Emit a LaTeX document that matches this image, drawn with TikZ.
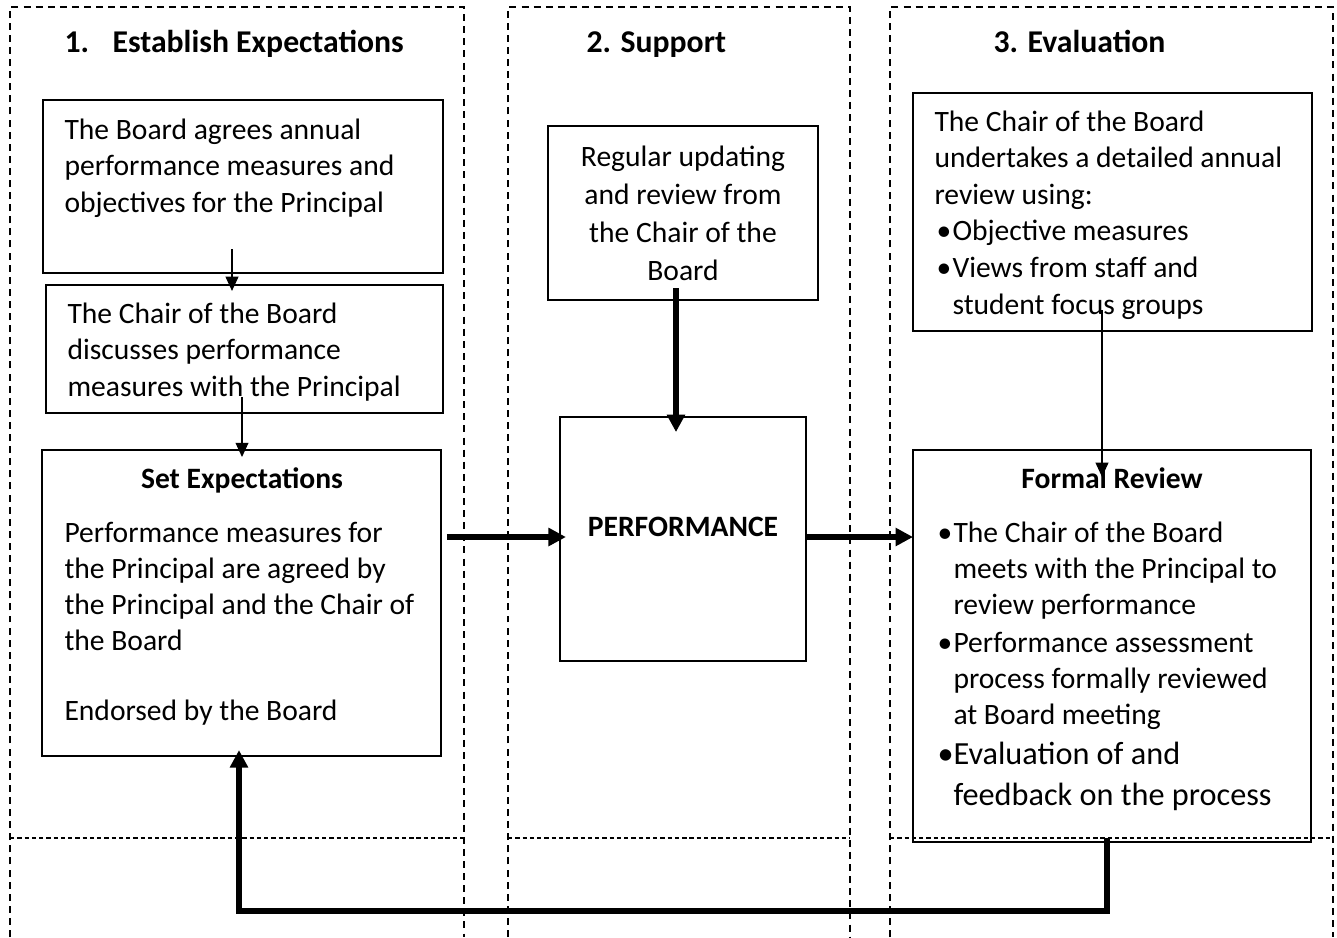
\documentclass[tikz,border=0pt]{standalone}
\usepackage{fontspec}
\setmainfont{Carlito}
\usetikzlibrary{arrows.meta}

\newcommand{\unitpx}{0.372pt}
\newcommand{\bul}{\makebox[5.95pt][l]{\textbullet}}
\newcommand{\bulgap}{\hspace*{5.95pt}}

\begin{document}
\begin{tikzpicture}[
    x=0.372pt, y=-0.372pt,
    lane/.style={
        draw,
        line width=0.45pt,
        dash pattern=on 2.6pt off 1.9pt
    },
    rowline/.style={
        draw,
        line width=0.6pt,
        dash pattern=on 1.6pt off 1.1pt
    },
    box/.style={
        draw,
        line width=0.55pt,
        inner sep=0pt,
        outer sep=0pt
    },
    boxsize/.style 2 args={
        minimum width=#1*\unitpx,
        minimum height=#2*\unitpx
    },
    txt/.style={
        inner sep=0pt,
        align=left,
        font=\fontsize{11}{13.4}\selectfont
    },
    head/.style={
        inner sep=0pt,
        font=\fontsize{11.8}{14}\selectfont\bfseries
    },
    subhead/.style={
        inner sep=0pt,
        font=\fontsize{11}{13.4}\selectfont\bfseries
    },
    thinarr/.style={
        -{Triangle[length=5.3pt,width=4.8pt]},
        line width=0.45pt
    },
    thickarr/.style={
        -{Triangle[length=6.5pt,width=6.5pt]},
        line width=1.9pt
    }
]
    \useasboundingbox (0,0) rectangle (1337,937);

    % Spalten
    \foreach \l/\r in {10/464, 508/850, 890/1333} {
        \draw[lane] (\l,937) |- (\r,7) -- (\r,937);
        \draw[rowline] (\l,838) -- (\r,838);
    }

    \node[head, anchor=base west] (headone) at (64,52)
        {\makebox[48\dimexpr\unitpx\relax][l]{1.}Establish Expectations};
    \node[head, anchor=base west] (headtwo) at (586,52)
        {2. Support};
    \node[head, anchor=base west] (headthree) at (993,52)
        {3. Evaluation};

    % Spalte 1
    \node[box, boxsize={400}{173}] (boardbox) at (243,186.5) {};
    \node[txt, anchor=base west] (boardtxt) at (64,212)
        {The Board agrees annual\\
        performance measures and\\
        objectives for the Principal};

    \node[box, boxsize={397}{128}] (chairbox) at (244.5,349) {};
    \node[txt, anchor=base west] (chairtxt) at (67,396)
        {The Chair of the Board\\
        discusses performance\\
        measures with the Principal};

    \node[box, boxsize={399}{306}] (setbox) at (241.5,603) {};
    \node[subhead, anchor=base] (settitle) at (242,488)
        {Set Expectations};
    \node[txt, anchor=base west] (settxt) at (64,720)
        {Performance measures for\\
        the Principal are agreed by\\
        the Principal and the Chair of\\
        the Board\\[12.6pt]
        Endorsed by the Board};

    % Spalte 2
    \node[box, boxsize={270}{174}] (updbox) at (683,213) {};
    \node[txt, align=center, anchor=base,
        font=\fontsize{11}{14.1}\selectfont] (updtxt) at (683,280)
        {Regular updating\\
        and review from\\
        the Chair of the\\
        Board};

    \node[box, boxsize={246}{244}] (perfbox) at (683,539) {};
    \node[subhead, anchor=base] (perftxt) at (683,536)
        {PERFORMANCE};

    % Spalte 3
    \node[box, boxsize={399}{238}] (evalbox) at (1112.5,212) {};
    \node[txt, anchor=base west,
        font=\fontsize{11}{13.6}\selectfont] (evaltxt) at (934,314)
        {The Chair of the Board\\
        undertakes a detailed annual\\
        review using:\\
        \hspace*{0.75pt}\bul Objective measures\\
        \hspace*{0.75pt}\bul Views from staff and\\
        \hspace*{0.75pt}\bulgap student focus groups};

    \node[box, boxsize={398}{392}] (formalbox) at (1112,646) {};
    \node[subhead, anchor=base] (formaltitle) at (1112,488)
        {Formal Review};
    \node[txt, anchor=base west] (formaltxt) at (937,805)
        {\bul The Chair of the Board\\
        \bulgap meets with the Principal to\\
        \bulgap review performance\\[1pt]
        \bul Performance assessment\\
        \bulgap process formally reviewed\\
        \bulgap at Board meeting\\[1.5pt]
        {\fontsize{12}{14.9}\selectfont\bul Evaluation of and}\\[1.5pt]
        {\fontsize{12}{14.9}\selectfont\bulgap feedback on the process}};

    % Hilfspunkte
    \coordinate (abstart) at (232,249);
    \coordinate (bcstart) at (242,397);
    \coordinate (destart) at (676,288);
    \coordinate (fgstart) at (1102,310);
    \coordinate (midrow) at (0,537);
    \coordinate (fbout) at (1107,838);
    \coordinate (fbturn) at (239,911);

    \draw[thinarr]
        (abstart) -- ([yshift=-2.2pt]abstart |- chairbox.north);

    \draw[thinarr]
        (bcstart) -- ([yshift=-2.6pt]bcstart |- setbox.north);

    \draw[thickarr]
        (destart) -- ([yshift=-5.6pt]destart |- perfbox.north);

    \draw[thickarr]
        ([xshift=2.2pt]setbox.east |- midrow) --
        ([xshift=2.2pt]perfbox.west |- midrow);

    \draw[thickarr]
        (perfbox.east |- midrow) -- (formalbox.west |- midrow);

    \draw[thinarr]
        (fgstart) -- ([yshift=-10pt]fgstart |- formalbox.north);

    \draw[thickarr, line width=2.2pt]
        (fbout) |- (fbturn) --
        ([yshift=2.2pt]fbturn |- setbox.south);
\end{tikzpicture}
\end{document}
